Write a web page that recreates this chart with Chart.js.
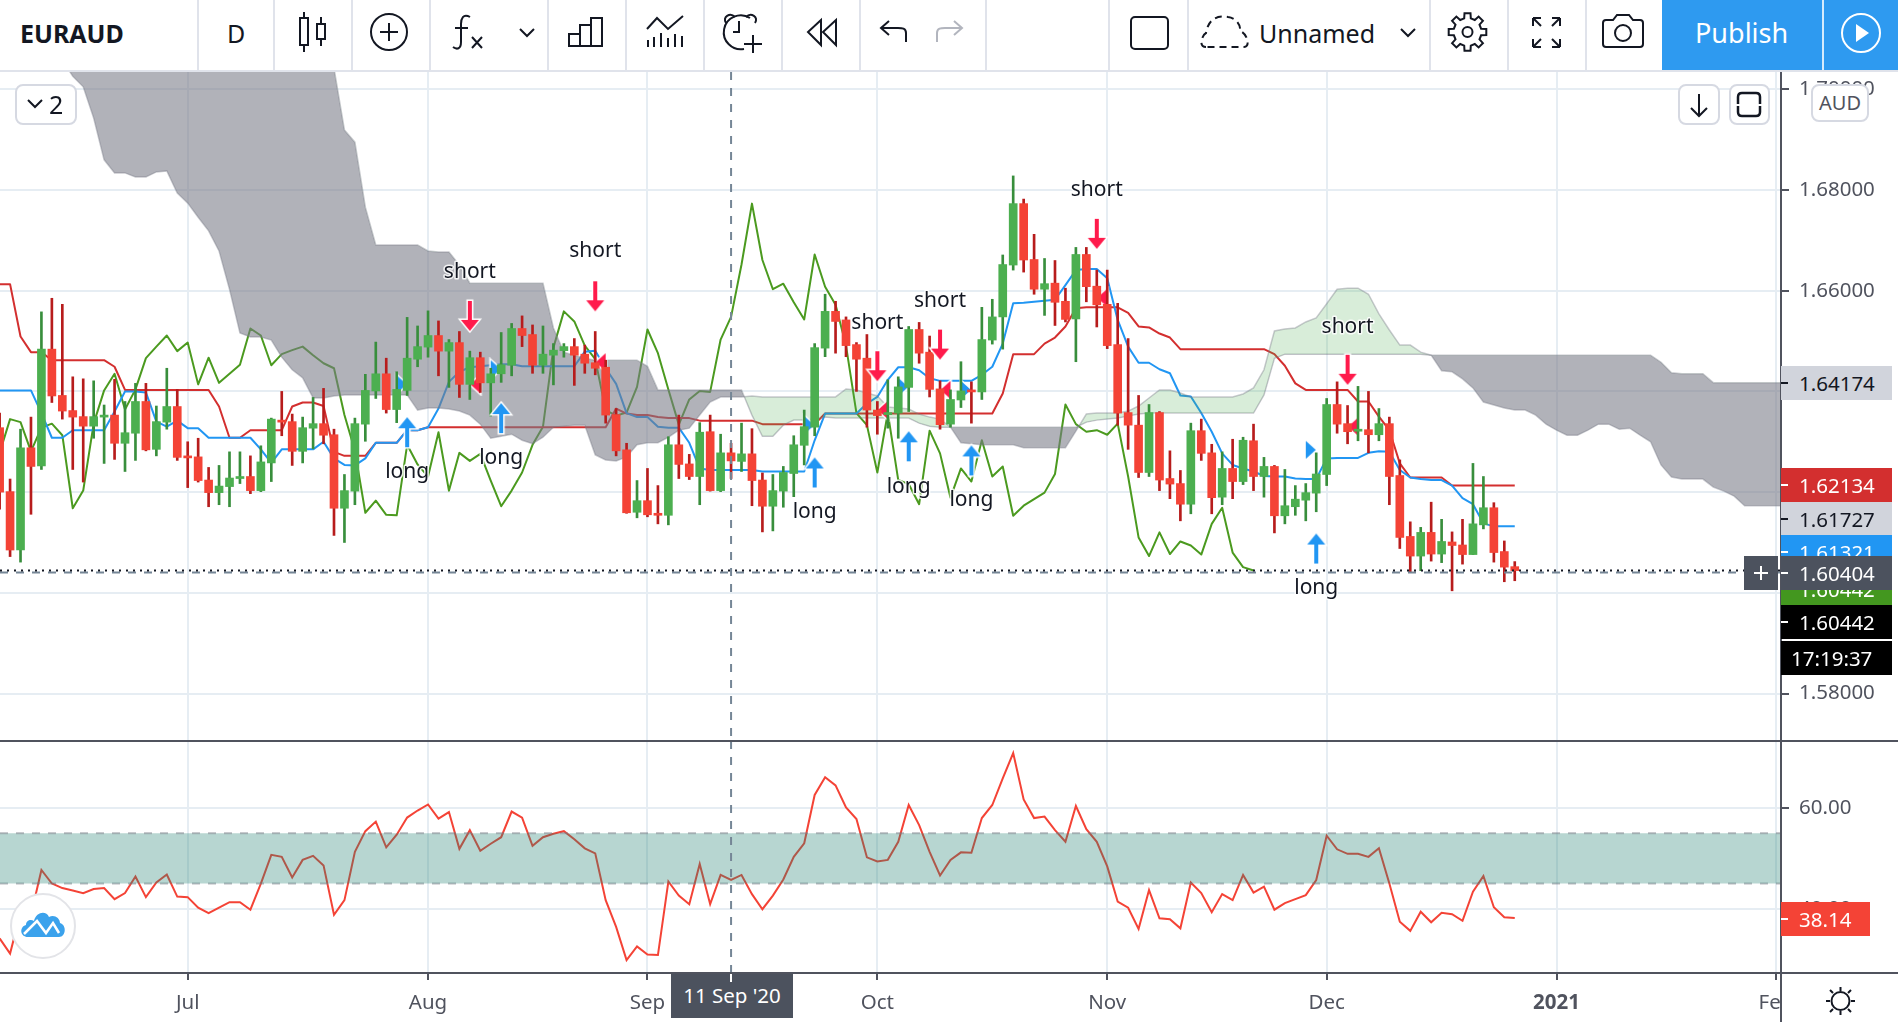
<!DOCTYPE html>
<html>
<head>
<meta charset="utf-8">
<title>EURAUD</title>
<script src="https://cdn.jsdelivr.net/npm/chart.js"></script>
<style>
html, body { margin: 0; padding: 0; background: #fff; overflow: hidden; }
body { width: 1898px; height: 1022px; position: relative; font-family: "Noto Sans", sans-serif; color: #131722; }
canvas { position: absolute; left: 0; }
.abs { position: absolute; }
.sep { position: absolute; background: #e0e3eb; }
.dark { position: absolute; background: #50535e; }
.tbtext { position: absolute; top: 13px; line-height: 40px; white-space: nowrap; }
.tag { position: absolute; left: 1781px; width: 111px; height: 34px; line-height: 34px; font-size: 20.5px; text-indent: 18px; overflow: hidden; }
.tag i { position: absolute; left: 0; top: 16px; width: 7px; height: 2px; }
.btn { position: absolute; background: #fff; border: 2px solid #d6d9e2; border-radius: 8px; box-sizing: border-box; }
</style>
</head>
<body>
<canvas id="priceChart" width="1898" height="668" style="top:72px"></canvas>
<canvas id="rsiChart" width="1898" height="281" style="top:741px"></canvas>
<div id="overlay"></div>
<script>
// daily EURAUD bars, index 0 = 5 Jun 2020
const barOpen = [
1.6328,1.6201,1.6085,1.6288,1.6252,1.6484,1.6392,1.6362,1.6350,1.6331,
1.6349,1.6353,1.6297,1.6317,1.6380,1.6285,1.6339,1.6370,1.6271,1.6270,
1.6224,1.6199,1.6211,1.6227,1.6231,1.6203,1.6258,1.6343,1.6340,1.6281,
1.6327,1.6336,1.6314,1.6168,1.6202,1.6335,1.6401,1.6435,1.6364,1.6402,
1.6464,1.6488,1.6511,1.6480,1.6497,1.6414,1.6467,1.6417,1.6435,1.6452,
1.6525,1.6513,1.6452,1.6472,1.6481,1.6489,1.6474,1.6457,1.6448,1.6354,
1.6284,1.6160,1.6183,1.6157,1.6154,1.6294,1.6256,1.6231,1.6320,1.6203,
1.6278,1.6261,1.6276,1.6224,1.6172,1.6202,1.6237,1.6293,1.6329,1.6486,
1.6559,1.6542,1.6493,1.6466,1.6363,1.6354,1.6357,1.6408,1.6523,1.6478,
1.6405,1.6335,1.6383,1.6401,1.6399,1.6502,1.6548,1.6651,1.6773,1.6662,
1.6603,1.6615,1.6579,1.6544,1.6672,1.6609,1.6573,1.6493,1.6358,1.6333,
1.6239,1.6358,1.6227,1.6217,1.6176,1.6322,1.6278,1.6190,1.6247,1.6221,
1.6302,1.6231,1.6251,1.6153,1.6171,1.6184,1.6198,1.6235,1.6374,1.6336,
1.6321,1.6324,1.6314,1.6336,1.6233,1.6112,1.6073,1.6120,1.6077,1.6101,
1.6095,1.6076,1.6135,1.6169,1.6082,1.6052];
const barClose = [
1.6200,1.6085,1.6288,1.6251,1.6484,1.6391,1.6361,1.6349,1.6331,1.6350,
1.6353,1.6297,1.6318,1.6380,1.6284,1.6340,1.6370,1.6269,1.6268,1.6223,
1.6199,1.6212,1.6228,1.6230,1.6203,1.6260,1.6345,1.6339,1.6281,1.6328,
1.6336,1.6313,1.6168,1.6203,1.6336,1.6402,1.6435,1.6364,1.6404,1.6466,
1.6489,1.6511,1.6480,1.6497,1.6414,1.6467,1.6417,1.6435,1.6453,1.6525,
1.6511,1.6452,1.6474,1.6482,1.6489,1.6472,1.6456,1.6446,1.6353,1.6282,
1.6159,1.6183,1.6155,1.6154,1.6294,1.6255,1.6231,1.6319,1.6203,1.6278,
1.6262,1.6276,1.6223,1.6172,1.6203,1.6239,1.6294,1.6330,1.6487,1.6559,
1.6539,1.6491,1.6464,1.6363,1.6352,1.6358,1.6409,1.6523,1.6476,1.6404,
1.6334,1.6384,1.6401,1.6399,1.6503,1.6548,1.6652,1.6773,1.6661,1.6603,
1.6614,1.6577,1.6543,1.6672,1.6608,1.6572,1.6491,1.6357,1.6333,1.6239,
1.6358,1.6224,1.6216,1.6176,1.6322,1.6277,1.6189,1.6247,1.6221,1.6303,
1.6231,1.6251,1.6153,1.6173,1.6186,1.6199,1.6236,1.6374,1.6335,1.6320,
1.6323,1.6314,1.6336,1.6231,1.6110,1.6073,1.6120,1.6077,1.6102,1.6094,
1.6076,1.6137,1.6169,1.6080,1.6051,1.60442];
const barHigh = [
1.6357,1.6226,1.6325,1.6349,1.6558,1.6585,1.6573,1.6429,1.6425,1.6421,
1.6373,1.6424,1.6380,1.6416,1.6416,1.6371,1.6446,1.6404,1.6300,1.6307,
1.6249,1.6253,1.6280,1.6280,1.6272,1.6292,1.6347,1.6400,1.6355,1.6349,
1.6388,1.6406,1.6325,1.6235,1.6347,1.6434,1.6498,1.6466,1.6439,1.6547,
1.6530,1.6560,1.6540,1.6503,1.6519,1.6480,1.6478,1.6446,1.6517,1.6535,
1.6550,1.6532,1.6530,1.6495,1.6495,1.6505,1.6492,1.6519,1.6462,1.6366,
1.6297,1.6223,1.6247,1.6213,1.6310,1.6353,1.6275,1.6338,1.6353,1.6315,
1.6297,1.6337,1.6326,1.6238,1.6235,1.6251,1.6312,1.6363,1.6495,1.6593,
1.6579,1.6548,1.6497,1.6513,1.6380,1.6423,1.6429,1.6529,1.6537,1.6510,
1.6421,1.6403,1.6459,1.6419,1.6567,1.6583,1.6671,1.6828,1.6782,1.6712,
1.6664,1.6660,1.6605,1.6686,1.6686,1.6641,1.6641,1.6575,1.6505,1.6392,
1.6374,1.6360,1.6282,1.6243,1.6337,1.6345,1.6295,1.6280,1.6305,1.6309,
1.6335,1.6269,1.6253,1.6245,1.6213,1.6217,1.6278,1.6386,1.6419,1.6372,
1.6410,1.6400,1.6366,1.6349,1.6264,1.6141,1.6130,1.6180,1.6146,1.6121,
1.6146,1.6257,1.6231,1.6179,1.6103,1.6062];
const barLow = [
1.6166,1.6072,1.6061,1.6156,1.6245,1.6378,1.6345,1.6245,1.6220,1.6307,
1.6257,1.6265,1.6241,1.6263,1.6282,1.6272,1.6325,1.6263,1.6209,1.6220,
1.6171,1.6175,1.6171,1.6217,1.6197,1.6201,1.6221,1.6312,1.6253,1.6258,
1.6286,1.6296,1.6114,1.6100,1.6175,1.6301,1.6386,1.6357,1.6338,1.6392,
1.6449,1.6468,1.6431,1.6408,1.6388,1.6384,1.6398,1.6351,1.6418,1.6431,
1.6489,1.6436,1.6436,1.6413,1.6468,1.6412,1.6436,1.6433,1.6337,1.6272,
1.6158,1.6149,1.6151,1.6137,1.6135,1.6227,1.6225,1.6175,1.6202,1.6201,
1.6227,1.6241,1.6173,1.6121,1.6123,1.6170,1.6191,1.6254,1.6312,1.6469,
1.6476,1.6469,1.6400,1.6329,1.6315,1.6327,1.6307,1.6360,1.6456,1.6389,
1.6325,1.6329,1.6368,1.6337,1.6384,1.6494,1.6484,1.6641,1.6637,1.6593,
1.6551,1.6531,1.6538,1.6459,1.6578,1.6528,1.6485,1.6333,1.6285,1.6229,
1.6231,1.6203,1.6187,1.6143,1.6157,1.6263,1.6157,1.6175,1.6187,1.6215,
1.6203,1.6190,1.6119,1.6137,1.6154,1.6143,1.6161,1.6213,1.6317,1.6296,
1.6302,1.6278,1.6302,1.6175,1.6088,1.6042,1.6044,1.6063,1.6060,1.6004,
1.6057,1.6076,1.6127,1.6061,1.6022,1.6024];

// ichimoku lines
const kijun = [
1.6613,1.6613,1.6509,1.6478,1.6478,1.6462,1.6462,1.6462,1.6462,1.6462,
1.6462,1.6449,1.6403,1.6403,1.6403,1.6403,1.6403,1.6403,1.6403,1.6403,
1.6403,1.6370,1.6308,1.6308,1.6323,1.6323,1.6323,1.6323,1.6370,1.6378,
1.6378,1.6371,1.6280,1.6272,1.6272,1.6272,1.6298,1.6298,1.6298,1.6323,
1.6323,1.6329,1.6329,1.6329,1.6329,1.6329,1.6329,1.6329,1.6329,1.6329,
1.6329,1.6329,1.6329,1.6329,1.6329,1.6329,1.6329,1.6329,1.6329,1.6366,
1.6356,1.6353,1.6353,1.6349,1.6347,1.6347,1.6347,1.6342,1.6342,1.6342,
1.6342,1.6342,1.6342,1.6335,1.6335,1.6335,1.6335,1.6335,1.6335,1.6356,
1.6356,1.6356,1.6356,1.6356,1.6356,1.6356,1.6356,1.6356,1.6356,1.6356,
1.6356,1.6356,1.6356,1.6356,1.6356,1.6356,1.6396,1.6474,1.6474,1.6474,
1.6495,1.6507,1.6529,1.6565,1.6567,1.6567,1.6567,1.6567,1.6556,1.6529,
1.6527,1.6515,1.6507,1.6484,1.6484,1.6484,1.6484,1.6484,1.6484,1.6484,
1.6484,1.6484,1.6474,1.6451,1.6416,1.6403,1.6403,1.6403,1.6403,1.6403,
1.6380,1.6380,1.6350,1.6323,1.6257,1.6229,1.6229,1.6229,1.6229,1.6213,
1.6213,1.6213,1.6213,1.6213,1.6213,1.6213];
const tenkan = [
1.6402,1.6402,1.6402,1.6402,1.6357,1.6308,1.6308,1.6323,1.6323,1.6323,
1.6323,1.6360,1.6400,1.6400,1.6398,1.6340,1.6330,1.6342,1.6327,1.6327,
1.6308,1.6308,1.6308,1.6308,1.6308,1.6285,1.6258,1.6285,1.6285,1.6285,
1.6285,1.6300,1.6267,1.6254,1.6253,1.6267,1.6298,1.6298,1.6298,1.6323,
1.6323,1.6329,1.6366,1.6419,1.6439,1.6448,1.6450,1.6452,1.6454,1.6454,
1.6450,1.6450,1.6450,1.6450,1.6450,1.6450,1.6479,1.6481,1.6446,1.6415,
1.6357,1.6349,1.6349,1.6330,1.6328,1.6328,1.6298,1.6247,1.6244,1.6244,
1.6244,1.6244,1.6244,1.6241,1.6241,1.6241,1.6241,1.6241,1.6303,1.6356,
1.6356,1.6356,1.6356,1.6376,1.6389,1.6423,1.6448,1.6448,1.6442,1.6426,
1.6421,1.6421,1.6421,1.6421,1.6433,1.6449,1.6495,1.6575,1.6576,1.6578,
1.6580,1.6582,1.6611,1.6641,1.6643,1.6643,1.6625,1.6542,1.6489,1.6457,
1.6457,1.6444,1.6436,1.6392,1.6390,1.6357,1.6320,1.6277,1.6254,1.6247,
1.6241,1.6232,1.6231,1.6231,1.6227,1.6226,1.6226,1.6267,1.6268,1.6268,
1.6268,1.6278,1.6281,1.6280,1.6244,1.6229,1.6226,1.6224,1.6224,1.6213,
1.6188,1.6176,1.6138,1.6132,1.6132,1.6132];
const lagSpan = [
1.6278,1.6345,1.6339,1.6281,1.6328,1.6336,1.6313,1.6168,1.6203,1.6336,
1.6402,1.6435,1.6364,1.6404,1.6466,1.6489,1.6511,1.6480,1.6497,1.6414,
1.6467,1.6417,1.6435,1.6453,1.6525,1.6511,1.6452,1.6474,1.6482,1.6489,
1.6472,1.6456,1.6446,1.6353,1.6282,1.6159,1.6183,1.6155,1.6154,1.6294,
1.6255,1.6231,1.6319,1.6203,1.6278,1.6262,1.6276,1.6223,1.6172,1.6203,
1.6239,1.6294,1.6330,1.6487,1.6559,1.6539,1.6491,1.6464,1.6363,1.6352,
1.6358,1.6409,1.6523,1.6476,1.6404,1.6334,1.6384,1.6401,1.6399,1.6503,
1.6548,1.6652,1.6773,1.6661,1.6603,1.6614,1.6577,1.6543,1.6672,1.6608,
1.6572,1.6491,1.6357,1.6333,1.6239,1.6358,1.6224,1.6216,1.6176,1.6322,
1.6277,1.6189,1.6247,1.6221,1.6303,1.6231,1.6251,1.6153,1.6173,1.6186,
1.6199,1.6236,1.6374,1.6335,1.6320,1.6323,1.6314,1.6336,1.6231,1.6110,
1.6073,1.6120,1.6077,1.6102,1.6094,1.6076,1.6137,1.6169,1.6080,1.6051,
1.60442];
// cloud, runs 26 bars past the last candle
const spanA = [
1.7237,1.7227,1.7207,1.7187,1.7157,1.7108,1.7058,1.7026,1.7005,1.6943,
1.6860,1.6834,1.6834,1.6826,1.6826,1.6836,1.6838,1.6794,1.6774,1.6746,
1.6719,1.6679,1.6603,1.6516,1.6508,1.6508,1.6502,1.6468,1.6443,1.6427,
1.6387,1.6387,1.6391,1.6393,1.6393,1.6393,1.6393,1.6393,1.6393,1.6393,
1.6363,1.6367,1.6367,1.6365,1.6361,1.6353,1.6335,1.6307,1.6311,1.6315,
1.6303,1.6296,1.6309,1.6329,1.6331,1.6333,1.6333,1.6274,1.6264,1.6262,
1.6270,1.6294,1.6298,1.6298,1.6309,1.6323,1.6327,1.6353,1.6379,1.6389,
1.6389,1.6389,1.6391,1.6389,1.6389,1.6389,1.6389,1.6389,1.6389,1.6389,
1.6389,1.6405,1.6403,1.6397,1.6391,1.6369,1.6367,1.6365,1.6355,1.6349,
1.6345,1.6329,1.6298,1.6296,1.6294,1.6294,1.6294,1.6294,1.6288,1.6288,
1.6288,1.6288,1.6288,1.6321,1.6355,1.6357,1.6357,1.6357,1.6361,1.6371,
1.6387,1.6403,1.6403,1.6397,1.6389,1.6389,1.6389,1.6389,1.6389,1.6395,
1.6407,1.6443,1.6520,1.6524,1.6526,1.6538,1.6546,1.6574,1.6603,1.6605,
1.6605,1.6593,1.6554,1.6522,1.6492,1.6492,1.6478,1.6472,1.6441,1.6439,
1.6425,1.6407,1.6379,1.6373,1.6367,1.6363,1.6363,1.6353,1.6335,1.6323,
1.6313,1.6313,1.6323,1.6335,1.6335,1.6325,1.6327,1.6313,1.6300,1.6254,
1.6230,1.6226,1.6226,1.6226,1.6210,1.6202,1.6192,1.61727,1.61727,1.61727,
1.61727,1.61727];
const spanB = [
1.7416,1.7416,1.7416,1.7416,1.7416,1.7416,1.7416,1.7416,1.7416,1.7416,
1.7416,1.7416,1.7416,1.7416,1.7416,1.7416,1.7416,1.7416,1.7416,1.7416,
1.7416,1.7416,1.7416,1.7416,1.7416,1.7416,1.7416,1.7416,1.7416,1.7416,
1.7416,1.7138,1.7042,1.6919,1.6895,1.6766,1.6691,1.6691,1.6691,1.6691,
1.6691,1.6679,1.6677,1.6677,1.6651,1.6615,1.6615,1.6615,1.6615,1.6615,
1.6615,1.6615,1.6615,1.6526,1.6478,1.6472,1.6466,1.6462,1.6462,1.6462,
1.6462,1.6462,1.6450,1.6403,1.6403,1.6403,1.6403,1.6403,1.6403,1.6403,
1.6403,1.6403,1.6353,1.6311,1.6311,1.6333,1.6343,1.6343,1.6345,1.6349,
1.6347,1.6347,1.6347,1.6347,1.6347,1.6347,1.6347,1.6347,1.6337,1.6331,
1.6329,1.6329,1.6329,1.6329,1.6329,1.6329,1.6329,1.6329,1.6329,1.6329,
1.6329,1.6329,1.6329,1.6329,1.6339,1.6343,1.6345,1.6347,1.6351,1.6355,
1.6357,1.6357,1.6357,1.6357,1.6357,1.6357,1.6357,1.6357,1.6357,1.6357,
1.6357,1.6393,1.6466,1.6474,1.6474,1.6474,1.6474,1.6474,1.6474,1.6474,
1.6474,1.6474,1.6474,1.6474,1.6474,1.6474,1.6474,1.6472,1.6472,1.6472,
1.6472,1.6472,1.6472,1.6472,1.6472,1.6472,1.6472,1.6472,1.6472,1.6472,
1.6472,1.6472,1.6472,1.6472,1.6472,1.6472,1.6472,1.6472,1.6472,1.6458,
1.6437,1.6435,1.6435,1.6435,1.64174,1.64174,1.64174,1.64174,1.64174,1.64174,
1.64174,1.64174];

const rsiValues = [
34.1,31.1,39.2,38.8,47.7,45.0,44.1,43.6,43.1,43.9,
44.1,41.9,43.1,46.4,42.3,45.2,46.8,42.4,42.3,40.2,
39.1,40.2,41.3,41.3,39.8,45.0,50.7,50.3,46.2,49.7,
50.5,48.6,38.8,41.7,51.3,55.4,57.3,52.2,54.7,58.1,
59.5,60.7,57.9,59.2,51.9,55.6,51.5,52.9,54.2,59.3,
58.1,52.5,54.2,54.9,55.4,53.8,52.0,51.0,41.7,36.4,
29.8,32.5,30.9,30.8,45.4,42.6,40.9,48.9,40.9,46.7,
45.7,46.7,42.9,39.9,42.6,45.8,50.3,53.0,62.6,66.1,
64.5,60.1,57.8,50.2,49.4,49.7,53.3,60.6,56.6,51.3,
46.6,49.7,51.2,51.1,58.0,60.6,65.9,70.9,61.7,58.0,
58.3,55.6,53.3,60.4,55.8,53.3,48.4,41.4,40.2,36.0,
43.7,38.1,37.9,36.1,45.2,43.1,39.3,42.9,41.7,46.7,
43.2,44.4,39.8,41.1,41.9,42.7,45.7,54.5,51.8,50.9,
50.9,50.3,52.0,45.0,37.4,35.6,39.4,37.3,39.2,38.9,
37.6,43.4,46.5,40.3,38.3,38.14];
const rsiBandHigh = 55;
const rsiBandLow = 45;

// signal markers
const longBars = [39,48,78,87,93,126];
const longArrowPrice = [1.6319,1.6347,1.6239,1.6291,1.6263,1.6088];
const longTextPrice = [1.6240,1.6268,1.6160,1.6210,1.6184,1.6010];
const shortBars = [45,57,84,90,105,129];
const shortArrowPrice = [1.6550,1.6589,1.6450,1.6493,1.6713,1.6443];
const shortTextPrice = [1.6637,1.6679,1.6536,1.6580,1.6800,1.6528];
const buyFlagBars = [38,47,77,86,92,125];
const buyFlagPrice = [1.6414,1.6444,1.6333,1.6409,1.6403,1.6284];
const sellFlagBars = [46,58,85,91,106,130];
const sellFlagPrice = [1.6414,1.6458,1.6363,1.6403,1.6586,1.6330];

// axes
const priceTicks = [1.58,1.60,1.62,1.64,1.66,1.68,1.70];
const rsiTicks = [40,60];
const monthBars = [18,41,62,84,106,127,149,170];
const monthLabels = ['Jul','Aug','Sep','Oct','Nov','Dec','2021','Feb'];
const crossBar = 70;
const crossPrice = 1.60404;
const lastPrice = 1.60442;

const FONT = '"Noto Sans", sans-serif';
const AXIS_TEXT = '#50535e';
const GRID = '#e6edf3';
const X_MIN = 0.036, X_MAX = 170.48;

function toPoints(arr){ return arr.map((y, x) => ({ x, y })); }
function pairPoints(bars, prices){ return bars.map((x, i) => ({ x, y: prices[i] })); }

// arrow and flag sprites for the scatter datasets
function sprite(w, h, path, color){
    const c = document.createElement('canvas');
    c.width = w; c.height = h;
    const g = c.getContext('2d');
    g.lineJoin = 'miter';
    g.beginPath();
    path.forEach((p, i) => i ? g.lineTo(p[0], p[1]) : g.moveTo(p[0], p[1]));
    g.closePath();
    g.strokeStyle = '#fff'; g.lineWidth = 3; g.stroke();
    g.fillStyle = color; g.fill();
    return c;
}
const BLUE = '#2196f3', PINK = '#ff1a4b';
const upArrow = sprite(26, 36, [[13,3],[22,14],[15,14],[15,33],[11,33],[11,14],[4,14]], BLUE);
const downArrow = sprite(26, 36, [[13,33],[4,22],[11,22],[11,3],[15,3],[15,22],[22,22]], PINK);
const buyFlag = sprite(28, 24, [[14,3],[24,12],[14,21]], BLUE);
const sellFlag = sprite(28, 24, [[14,3],[4,12],[14,21]], PINK);

function scatterSet(points, img, order){
    return { type: 'scatter', data: points, pointStyle: img, pointRadius: 12, pointBorderWidth: 0, order, clip: false };
}
function lineSet(points, color, order){
    return { type: 'line', data: points, borderColor: color, borderWidth: 2, pointRadius: 0, tension: 0, fill: false, order, borderJoinStyle: 'round' };
}

const priceDecor = {
    id: 'priceDecor',
    afterDatasetsDraw(chart){
        const { ctx, chartArea: a, scales: { x, y } } = chart;
        ctx.save();
        // last price dotted, crosshair dashed
        ctx.lineWidth = 2;
        ctx.strokeStyle = '#758696';
        ctx.setLineDash([8, 8]);
        ctx.beginPath();
        ctx.moveTo(a.left, y.getPixelForValue(crossPrice)); ctx.lineTo(a.right, y.getPixelForValue(crossPrice));
        ctx.moveTo(x.getPixelForValue(crossBar), a.top); ctx.lineTo(x.getPixelForValue(crossBar), a.bottom);
        ctx.stroke();
        ctx.strokeStyle = '#131722';
        ctx.setLineDash([2, 5]);
        ctx.beginPath();
        ctx.moveTo(a.left, y.getPixelForValue(lastPrice)); ctx.lineTo(a.right, y.getPixelForValue(lastPrice));
        ctx.stroke();
        ctx.setLineDash([]);
        // signal names
        ctx.font = '21px ' + FONT;
        ctx.textAlign = 'center';
        ctx.textBaseline = 'middle';
        ctx.lineJoin = 'round';
        const label = (txt, bar, price) => {
            const px = x.getPixelForValue(bar), py = y.getPixelForValue(price);
            ctx.strokeStyle = 'rgba(255,255,255,.85)';
            ctx.lineWidth = 3;
            ctx.strokeText(txt, px, py);
            ctx.fillStyle = '#131722';
            ctx.fillText(txt, px, py);
        };
        longBars.forEach((b, i) => label('long', b, longTextPrice[i]));
        shortBars.forEach((b, i) => label('short', b, shortTextPrice[i]));
        ctx.restore();
    }
};

const rsiDecor = {
    id: 'rsiDecor',
    afterDatasetsDraw(chart){
        const { ctx, chartArea: a, scales: { x } } = chart;
        ctx.save();
        ctx.lineWidth = 2;
        ctx.strokeStyle = '#758696';
        ctx.setLineDash([8, 8]);
        ctx.beginPath();
        ctx.moveTo(x.getPixelForValue(crossBar), a.top); ctx.lineTo(x.getPixelForValue(crossBar), a.bottom);
        ctx.stroke();
        ctx.restore();
    }
};

function noPadding(scale){
    scale.paddingTop = 0; scale.paddingBottom = 0; scale.paddingLeft = 0; scale.paddingRight = 0;
}

function monthAxis(showLabels){
    return {
        type: 'linear',
        min: X_MIN,
        max: X_MAX,
        offset: false,
        afterBuildTicks(scale){ scale.ticks = monthBars.map(value => ({ value })); },
        afterFit(scale){ scale.height = showLabels ? 49 : 0; noPadding(scale); },
        border: { display: false },
        grid: { offset: false, color: GRID, lineWidth: 2, drawTicks: showLabels, tickLength: 7, tickColor: AXIS_TEXT, tickWidth: 2 },
        ticks: {
            display: showLabels,
            autoSkip: false,
            maxRotation: 0,
            padding: 11,
            color: AXIS_TEXT,
            font: c => ({ family: FONT, size: 20.5, weight: c.tick && c.tick.value === 149 ? 'bold' : 'normal' }),
            callback: v => monthLabels[monthBars.indexOf(v)] || ''
        }
    };
}

function valueAxis(min, max, values, digits){
    return {
        type: 'linear',
        position: 'right',
        min, max,
        afterBuildTicks(scale){ scale.ticks = values.map(value => ({ value })); },
        afterFit(scale){ scale.width = 117; noPadding(scale); },
        border: { display: false },
        grid: { color: GRID, lineWidth: 2, tickLength: 8, tickColor: AXIS_TEXT, tickWidth: 2 },
        ticks: {
            autoSkip: false,
            padding: 10,
            color: AXIS_TEXT,
            font: { family: FONT, size: 20.5 },
            callback: v => v.toFixed(digits)
        }
    };
}

const UP_BODY = '#4caf50', DOWN_BODY = '#f44336', UP_WICK = '#388e3c', DOWN_WICK = '#b71c1c';
const isUp = barClose.map((c, i) => c >= barOpen[i]);

new Chart(document.getElementById('priceChart'), {
    type: 'bar',
    data: {
        datasets: [
            scatterSet(pairPoints(longBars, longArrowPrice), upArrow, 0),
            scatterSet(pairPoints(shortBars, shortArrowPrice), downArrow, 0),
            { type: 'bar', data: barOpen.map((o, x) => ({ x, y: [o, barClose[x]] })), backgroundColor: isUp.map(u => u ? UP_BODY : DOWN_BODY), barThickness: 8, grouped: false, minBarLength: 2, order: 1 },
            { type: 'bar', data: barLow.map((l, x) => ({ x, y: [l, barHigh[x]] })), backgroundColor: isUp.map(u => u ? UP_WICK : DOWN_WICK), barThickness: 2, grouped: false, order: 2 },
            scatterSet(pairPoints(buyFlagBars, buyFlagPrice), buyFlag, 3),
            scatterSet(pairPoints(sellFlagBars, sellFlagPrice), sellFlag, 3),
            { type: 'line', data: toPoints(spanA), borderColor: 'rgba(120,123,134,.4)', borderWidth: 1.5, pointRadius: 0, tension: 0, order: 4,
              fill: { target: '+1', above: 'rgba(76,175,80,.22)', below: 'rgba(120,123,134,.58)' } },
            { type: 'line', data: toPoints(spanB), borderColor: 'rgba(120,123,134,.4)', borderWidth: 1.5, pointRadius: 0, tension: 0, order: 5, fill: false },
            lineSet(toPoints(tenkan), BLUE, 6),
            lineSet(toPoints(kijun), '#d32f2f', 7),
            lineSet(toPoints(lagSpan), '#4b9a1f', 8)
        ]
    },
    options: {
        responsive: false,
        animation: false,
        layout: { padding: 0, autoPadding: false },
        plugins: { legend: { display: false }, tooltip: { enabled: false } },
        scales: {
            x: monthAxis(false),
            y: valueAxis(1.57077, 1.70344, priceTicks, 5)
        }
    },
    plugins: [priceDecor]
});

new Chart(document.getElementById('rsiChart'), {
    type: 'line',
    data: {
        datasets: [
            { data: [{ x: X_MIN, y: rsiBandHigh }, { x: X_MAX, y: rsiBandHigh }], borderColor: 'rgba(120,123,134,.5)', borderWidth: 2, borderDash: [8, 8], pointRadius: 0, order: 1,
              fill: { target: '+1', above: 'rgba(36,130,115,.33)', below: 'rgba(36,130,115,.33)' } },
            { data: [{ x: X_MIN, y: rsiBandLow }, { x: X_MAX, y: rsiBandLow }], borderColor: 'rgba(120,123,134,.5)', borderWidth: 2, borderDash: [8, 8], pointRadius: 0, order: 2, fill: false },
            { data: toPoints(rsiValues), borderColor: '#f44336', borderWidth: 2, pointRadius: 0, tension: 0, order: 3, fill: false }
        ]
    },
    options: {
        responsive: false,
        animation: false,
        layout: { padding: 0, autoPadding: false },
        plugins: { legend: { display: false }, tooltip: { enabled: false } },
        scales: {
            x: monthAxis(true),
            y: valueAxis(27.23, 73.31, rsiTicks, 2)
        }
    },
    plugins: [rsiDecor]
});

// toolbar, price tags and the small chart buttons
const overlay = document.getElementById('overlay');
function el(cls, css, html){
    const d = document.createElement('div');
    d.className = cls;
    d.style.cssText = css;
    if(html) d.innerHTML = html;
    overlay.appendChild(d);
    return d;
}
el('abs', 'left:0;top:0;width:1898px;height:70px;background:#fff');
el('sep', 'left:0;top:70px;width:1898px;height:2px');
[197,273,351,429,547,625,703,781,859,985,1108,1187,1429,1507,1585].forEach(x => el('sep', `left:${x}px;top:0;width:2px;height:70px`));
el('abs', 'left:1662px;top:0;width:236px;height:70px;background:#2e9af0');
el('abs', 'left:1822px;top:0;width:2px;height:70px;background:#fff;opacity:.8');
el('tbtext', 'left:20px;font-size:25px;font-weight:700', 'EURAUD');
el('tbtext', 'left:227px;font-size:25px', 'D');
el('tbtext', 'left:1259px;font-size:25px', 'Unnamed');
el('tbtext', 'left:1695px;font-size:27px;color:#fff', 'Publish');

// axis rules
el('dark', 'left:1780px;top:72px;width:2px;height:950px');
el('dark', 'left:0;top:740px;width:1898px;height:2px');
el('dark', 'left:0;top:972px;width:1898px;height:2px');
el('abs', 'left:1782px;top:974px;width:116px;height:48px;background:#fff');

const tags = [
    ['1.64174', 366, '#d1d4dc', '#131722', '#131722'],
    ['1.62134', 468, '#d32f2f', '#fff', '#fff'],
    ['1.61727', 502, '#d1d4dc', '#131722', '#131722'],
    ['1.61321', 535, '#2196f3', '#fff', '#fff'],
    ['1.60442', 572, '#43971f', '#fff', '#fff'],
    ['1.60404', 556, '#4c525e', '#fff', '#fff'],
    ['1.60442', 605, '#000', '#fff', '#fff']
];
tags.forEach(t => el('tag', `top:${t[1]}px;background:${t[2]};color:${t[3]}`, `${t[0]}<i style="background:${t[4]}"></i>`));
el('tag', 'top:641px;background:#000;color:#fff;text-indent:10px', '17:19:37');
el('tag', 'top:902px;width:89px;background:#f44336;color:#fff;text-indent:18px', '38.14<i style="background:#fff"></i>');
el('abs', "left:671px;top:974px;width:122px;height:44px;line-height:42px;background:#4c525e;color:#fff;font-size:20.5px;text-align:center", "11 Sep '20");
el('abs', 'left:730px;top:974px;width:2px;height:8px;background:#fff');
el('abs', 'left:1744px;top:556px;width:34px;height:34px;background:#4c525e');

el('btn', 'left:15px;top:84px;width:62px;height:41px');
el('abs', 'left:49px;top:86px;font-size:25px;line-height:36px', '2');
el('btn', 'left:1678px;top:84px;width:42px;height:41px');
el('btn', 'left:1729px;top:84px;width:41px;height:41px');
el('btn', 'left:1811px;top:84px;width:58px;height:38px;line-height:33px;text-align:center;font-size:20px;color:#50535e', 'AUD');
el('abs', 'left:10px;top:893px;width:66px;height:66px;border-radius:50%;background:#fff;border:2px solid #e3e4e8;box-sizing:border-box');

// gear outline for the settings button
function gearPath(cx, cy){
    let d = '';
    for(let k = 0; k < 8; k++){
        const a = k * Math.PI / 4;
        [[-0.24, 14], [-0.16, 19], [0.16, 19], [0.24, 14]].forEach(s => {
            const px = cx + s[1] * Math.cos(a + s[0]), py = cy + s[1] * Math.sin(a + s[0]);
            d += (d ? 'L' : 'M') + px.toFixed(1) + ' ' + py.toFixed(1);
        });
    }
    return d + 'Z';
}

const ink = 'fill="none" stroke="#131722" stroke-width="2"';
const icons = document.createElementNS('http://www.w3.org/2000/svg', 'svg');
icons.setAttribute('width', 1898);
icons.setAttribute('height', 1022);
icons.style.cssText = 'position:absolute;left:0;top:0';
icons.innerHTML = `
<g ${ink}>
  <path d="M304 12V18M304 45V52M321 17V24M321 39V46"/><rect x="300" y="18" width="8" height="27"/><rect x="317" y="24" width="8" height="15"/>
  <circle cx="389" cy="32" r="18"/><path d="M380 32H398M389 23V41"/>
  <path d="M470 17C463 13 461 19 461 24V42C461 49 457 50 453 47M455 28H468M472 37L482 48M482 37L472 48"/>
  <path d="M520 29L527 36L534 29"/>
  <path d="M569 46V34H580V46M580 46V25H591V46M591 46V18H602V46M568 46H603"/>
  <path d="M647 29L657 18L668 29L683 16M648 47V40M654 47V37M661 47V33M668 47V38M675 47V34M682 47V36"/>
  <path d="M750 18A17 17 0 1 0 744 49M733 32H739V21M753 35V53M744 44H762"/><path d="M726 23C722 17 730 12 735 17M746 17C751 12 759 17 755 23"/>
  <path d="M821 20L808 32L821 45ZM836 20L823 32L836 45Z"/>
  <path d="M906 42V33C906 28 902 28 898 28H881M889 21L881 28L889 35"/>
  <path d="M937 42V33C937 28 941 28 945 28H962M954 21L962 28L954 35" stroke="#b2b5be"/>
  <rect x="1131" y="17" width="37" height="32" rx="4"/>
  <path d="M1206 47C1198 47 1202 35 1206 33C1208 20 1216 15 1228 17C1236 18 1241 25 1240 31C1247 33 1251 47 1244 47Z" stroke-dasharray="7 5"/>
  <path d="M1401 29L1408 36L1415 29"/>
  <path d="${gearPath(1467.5, 32)}"/><circle cx="1467.5" cy="32" r="5"/>
  <path d="M1533 18L1541 26M1533 18V26M1533 18H1541M1560 18L1552 26M1560 18V26M1560 18H1552M1533 47L1541 39M1533 47V39M1533 47H1541M1560 47L1552 39M1560 47V39M1560 47H1552"/>
  <path d="M1606 20H1613L1617 15H1629L1633 20H1640C1642 20 1643 21 1643 23V44C1643 46 1642 47 1640 47H1606C1604 47 1603 46 1603 44V23C1603 21 1604 20 1606 20Z"/><circle cx="1623" cy="33" r="8"/>
  <path d="M28 100L35 107L42 100"/>
  <path d="M1699 94V116M1691 108L1699 116L1707 108"/>
  <path d="M1738 104V97C1738 94 1740 93 1742 93H1756C1758 93 1760 94 1760 97V104M1738 106V112C1738 115 1740 116 1742 116H1756C1758 116 1760 115 1760 112V106" stroke-width="2.5"/>
  <circle cx="1840.5" cy="1001" r="9"/><path d="M1840.5 987V991M1840.5 1011V1015M1826 1001H1830M1851 1001H1855M1830 990L1833 993M1848 1009L1851 1012M1830 1012L1833 1009M1848 993L1851 990"/>
</g>
<circle cx="1861" cy="33" r="19" fill="none" stroke="#fff" stroke-width="2"/><path d="M1856 24L1869 33L1856 42Z" fill="#fff"/>
<path d="M1754 573H1768M1761 566V580" stroke="#fff" stroke-width="2"/>
<path d="M28 937C20 937 19 927 26 925C26 920 31 919 34 921C36 912 46 910 49 917C54 914 60 918 60 923C67 925 66 937 59 937Z" fill="#3ba2ec"/>
<path d="M24 934L37 921L46 933L53 923L59 933" fill="none" stroke="#fff" stroke-width="2.5"/>`;
overlay.appendChild(icons);
</script>
</body>
</html>
